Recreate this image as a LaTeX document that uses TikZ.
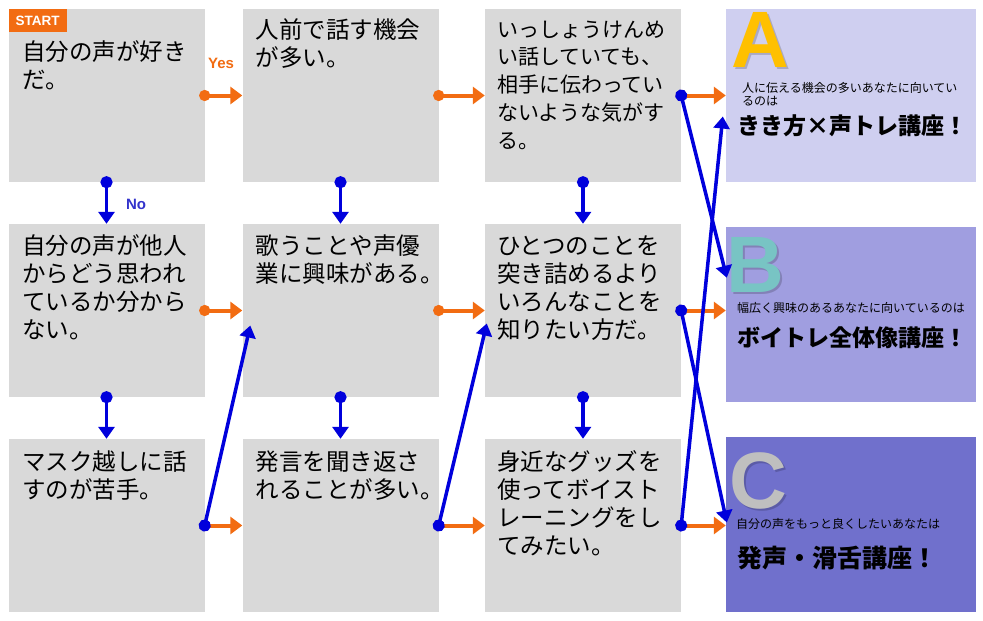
\documentclass[tikz,border=0pt]{standalone}
\usepackage{fontspec}
\setmainfont{Noto Sans CJK JP}
\newfontfamily\latin{Liberation Sans}
\usetikzlibrary{arrows.meta,calc}
\definecolor{boxgray}{RGB}{217,217,217}
\definecolor{orng}{RGB}{242,108,18}
\definecolor{blu}{RGB}{0,0,220}
\definecolor{nolab}{RGB}{51,51,204}
\definecolor{resA}{RGB}{207,207,240}
\definecolor{resB}{RGB}{160,158,224}
\definecolor{resC}{RGB}{112,112,204}
\definecolor{goldA}{RGB}{255,192,0}
\definecolor{tealB}{RGB}{120,196,196}
\definecolor{grayC}{RGB}{191,191,191}
\begin{document}
\begin{tikzpicture}[x=1pt,y=-1pt,
  qbox/.style={fill=boxgray, draw=none, inner sep=0pt, minimum width=196pt, minimum height=173pt},
  rbox/.style={draw=none, inner sep=0pt, minimum width=250pt},
  qtxt/.style={anchor=north west, inner sep=0pt, align=left, font=\fontsize{23.5}{28}\selectfont},
  smalltxt/.style={anchor=north west, inner sep=0pt, align=left, font=\fontsize{12}{12.5}\selectfont},
  bigtxt/.style={anchor=base west, inner sep=0pt},
  letter/.style={anchor=base west, inner sep=0pt, font=\latin\bfseries\fontsize{80}{80}\selectfont},
  yesarr/.style={draw=orng, line width=4pt, {Circle[length=11pt]}-{Triangle[length=12pt,width=17pt]}, shorten <=-5.5pt},
  noarr/.style={draw=blu, line width=3.5pt, {Circle[length=12pt]}-{Triangle[length=12pt,width=16pt]}, shorten <=-6pt},
  lbl/.style={inner sep=0pt, font=\latin\bfseries\fontsize{15}{15}\selectfont}
]
\useasboundingbox (0,0) rectangle (983,621);
\fill[white] (0,0) rectangle (983,621);

% question boxes
\node[qbox] (b11) at (106.5,95.5) {};
\node[qbox] (b21) at (106.5,310.5) {};
\node[qbox] (b31) at (106.5,525.5) {};
\node[qbox] (b12) at (340.5,95.5) {};
\node[qbox] (b22) at (340.5,310.5) {};
\node[qbox] (b32) at (340.5,525.5) {};
\node[qbox] (b13) at (583,95.5) {};
\node[qbox] (b23) at (583,310.5) {};
\node[qbox] (b33) at (583,525.5) {};

% result boxes
\node[rbox, fill=resA, minimum height=173pt] (rA) at (851,95.5) {};
\node[rbox, fill=resB, minimum height=175pt] (rB) at (851,314.5) {};
\node[rbox, fill=resC, minimum height=175pt] (rC) at (851,524.5) {};

% START label
\node[fill=orng, text=white, inner sep=0pt, minimum width=58pt, minimum height=23pt, anchor=north west,
  font=\latin\bfseries\fontsize{13.5}{13.5}\selectfont] (start) at (b11.north west) {START};

% question texts
\node[qtxt] (t11) at ([xshift=14pt,yshift=-32pt]b11.north west) {\rule{0pt}{19pt}自分の声が好き\\だ。};
\node[qtxt] (t21) at ([xshift=14pt,yshift=-11pt]b21.north west) {\rule{0pt}{19pt}自分の声が他人\\からどう思われ\\ているか分から\\ない。};
\node[qtxt] (t31) at ([xshift=14pt,yshift=-12pt]b31.north west) {\rule{0pt}{19pt}マスク越しに話\\すのが苦手。};
\node[qtxt] (t12) at ([xshift=13pt,yshift=-10pt]b12.north west) {\rule{0pt}{19pt}人前で話す機会\\が多い。};
\node[qtxt] (t22) at ([xshift=13pt,yshift=-11pt]b22.north west) {\rule{0pt}{19pt}歌うことや声優\\業に興味がある。};
\node[qtxt] (t32) at ([xshift=13pt,yshift=-12pt]b32.north west) {\rule{0pt}{19pt}発言を聞き返さ\\れることが多い。};
\node[qtxt, font=\fontsize{21}{27.75}\selectfont] (t13) at ([xshift=12pt,yshift=-9pt]b13.north west) {\rule{0pt}{19pt}いっしょうけんめ\\い話していても、\\相手に伝わってい\\ないような気がす\\る。};
\node[qtxt] (t23) at ([xshift=12pt,yshift=-11pt]b23.north west) {\rule{0pt}{19pt}ひとつのことを\\突き詰めるより\\いろんなことを\\知りたい方だ。};
\node[qtxt] (t33) at ([xshift=12pt,yshift=-12pt]b33.north west) {\rule{0pt}{19pt}身近なグッズを\\使ってボイスト\\レーニングをし\\てみたい。};

% big letters with shadows
\node[letter, text=black, opacity=0.18] (sA) at (733.5,69.5) {A};
\node[letter, text=goldA] (lA) at (731,67) {A};
\node[letter, text=black, opacity=0.18] (sB) at (728.5,294.5) {B};
\node[letter, text=tealB] (lB) at (726,292) {B};
\node[letter, text=black, opacity=0.18] (sC) at (731.5,510.5) {C};
\node[letter, text=grayC] (lC) at (729,508) {C};

% result texts
\node[smalltxt] (aA) at (742,82) {\rule{0pt}{10.5pt}人に伝える機会の多いあなたに向いてい\\るのは};
\node[bigtxt, font=\bfseries\fontsize{23}{23}\selectfont] (cA) at (737,134) {きき方×声トレ講座！};
\node[smalltxt] (aB) at (737,302) {\rule{0pt}{10.5pt}幅広く興味のあるあなたに向いているのは};
\node[bigtxt, font=\bfseries\fontsize{23}{23}\selectfont] (cB) at (737,346) {ボイトレ全体像講座！};
\node[smalltxt] (aC) at (736,518) {\rule{0pt}{10.5pt}自分の声をもっと良くしたいあなたは};
\node[bigtxt, font=\bfseries\fontsize{25}{25}\selectfont] (cC) at (737,567) {発声・滑舌講座！};

% labels
\node[lbl, text=orng] (yes) at (221,63) {Yes};
\node[lbl, text=nolab] (no) at (136,204) {No};

% yes arrows
\draw[yesarr] (b11.east) -- (b12.west);
\draw[yesarr] (b21.east) -- (b22.west);
\draw[yesarr] (b31.east) -- (b32.west);
\draw[yesarr] (b12.east) -- (b13.west);
\draw[yesarr] (b22.east) -- (b23.west);
\draw[yesarr] (b32.east) -- (b33.west);
\draw[yesarr] (b13.east) -- (rA.west |- b13.east);
\draw[yesarr] (b23.east) -- (rB.west |- b23.east);
\draw[yesarr] (b33.east) -- (rC.west |- b33.east);

% no arrows
\draw[noarr] (b11.south) -- (b21.north);
\draw[noarr] (b21.south) -- (b31.north);
\draw[noarr] (b12.south) -- (b22.north);
\draw[noarr] (b22.south) -- (b32.north);
\draw[noarr] (b13.south) -- (b23.north);
\draw[noarr] (b23.south) -- (b33.north);
\draw[noarr] (b31.east) -- ([xshift=8pt,yshift=-15pt]b22.west);
\draw[noarr] (b32.east) -- ([xshift=2pt,yshift=-13pt]b23.west);
\draw[noarr] (b13.east) -- ([xshift=1pt,yshift=-51pt]rB.north west);
\draw[noarr] (b23.east) -- ([xshift=1pt,yshift=2pt]rC.west);
\draw[noarr] (b33.east) -- ([xshift=-3pt,yshift=-21pt]rA.west);
\end{tikzpicture}
\end{document}
